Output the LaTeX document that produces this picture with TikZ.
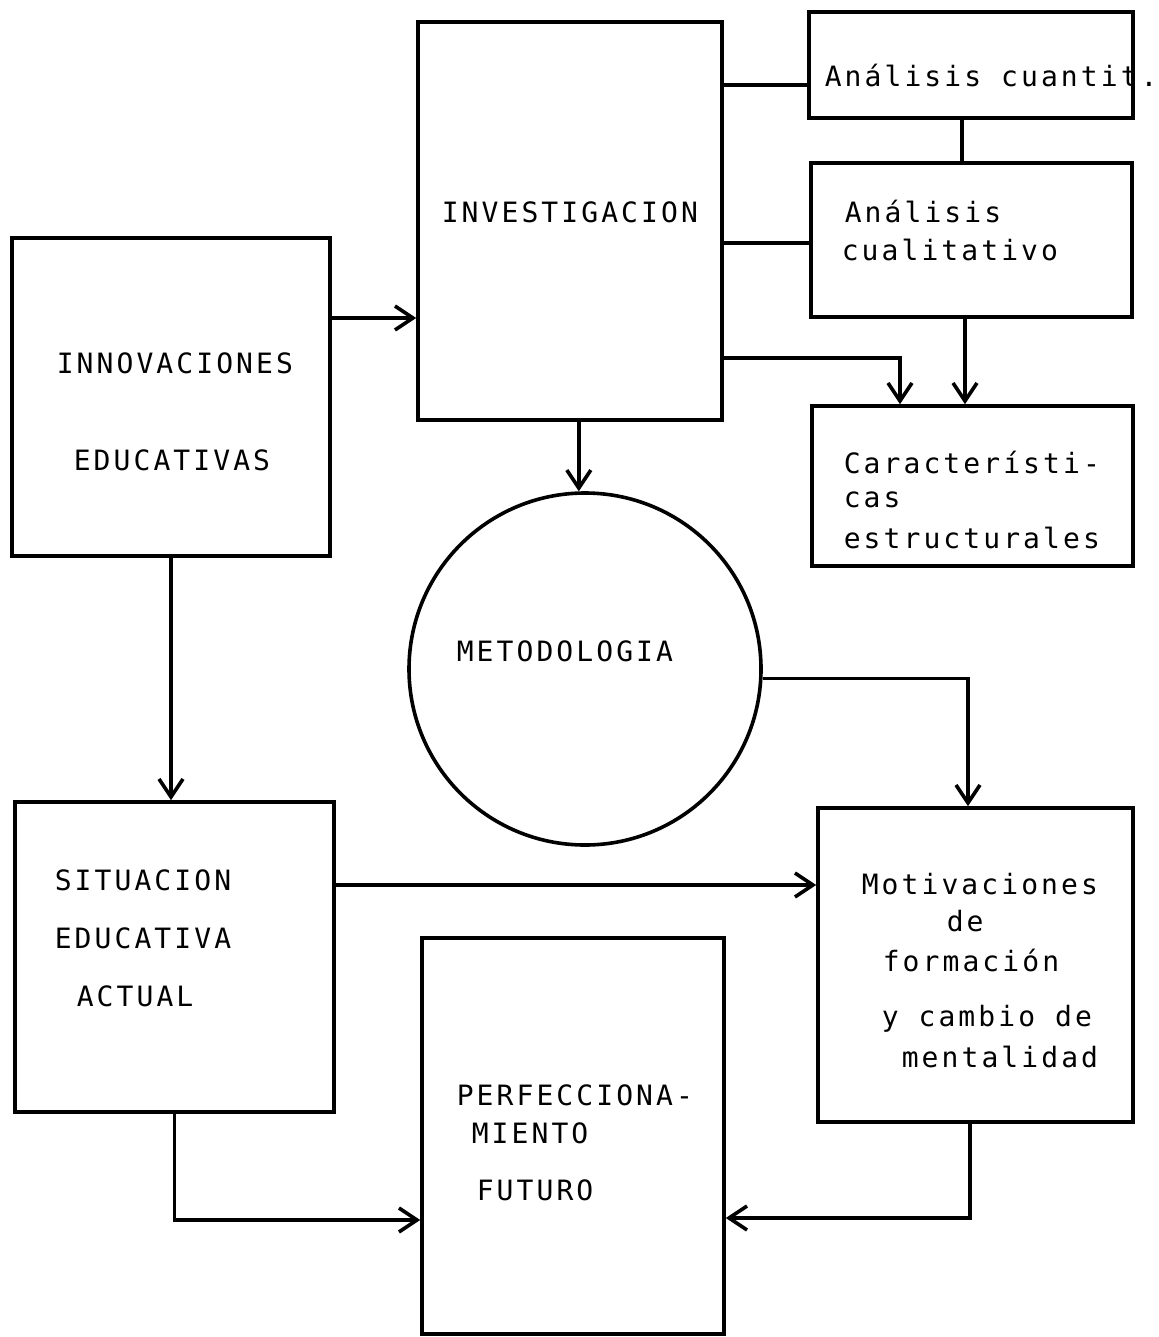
\documentclass[tikz,border=0pt]{standalone}
\usepackage{fontspec}
\usepackage{tikz}
\usetikzlibrary{arrows.meta}
\newfontfamily\typewr[LetterSpace=11]{DejaVu Sans Mono}

\begin{document}
\begin{tikzpicture}[x=0.5pt,y=-0.5pt,
  box/.style={draw, rectangle, line width=1.8pt, inner sep=0pt},
  lbl/.style={anchor=west, inner sep=0pt, font=\typewr\fontsize{14pt}{17pt}\selectfont},
  line width=1.8pt,
  >={Straight Barb[length=9pt,width=12pt,line width=1.8pt]}]
\useasboundingbox (0,0) rectangle (1159,1337);
% boxes
\node[box, minimum width=152pt, minimum height=199pt] (invest) at (570,221) {};
\node[box, minimum width=162pt, minimum height=53pt] (cuant) at (971,65) {};
\node[box, minimum width=160.5pt, minimum height=77pt] (cuali) at (971.5,240) {};
\node[box, minimum width=160.5pt, minimum height=80pt] (carac) at (972.5,486) {};
\node[box, minimum width=159pt, minimum height=159pt] (innov) at (171,397) {};
\node[draw, circle, line width=1.8pt, inner sep=0pt, minimum size=176pt] (metod) at (585,669) {};
\node[box, minimum width=159.5pt, minimum height=155pt] (sit) at (174.5,957) {};
\node[box, minimum width=157.5pt, minimum height=157pt] (motiv) at (975.5,965) {};
\node[box, minimum width=151pt, minimum height=198pt] (perf) at (573,1136) {};
% texts
\node[lbl] (invest-t) at (440,212) {INVESTIGACION};
\node[lbl] (cuant-t) at (823,76) {Análisis cuantit.};
\node[lbl] (cuali-t1) at (843,212) {Análisis};
\node[lbl] (cuali-t2) at (840,250) {cualitativo};
\node[lbl] (carac-t1) at (842,462) {Característi-};
\node[lbl] (carac-t2) at (842,500) {cas};
\node[lbl] (carac-t3) at (842,538) {estructurales};
\node[lbl] (innov-t1) at (55,363) {INNOVACIONES};
\node[lbl] (innov-t2) at (72,460) {EDUCATIVAS};
\node[lbl] (metod-t) at (455,651) {METODOLOGIA};
\node[lbl] (sit-t1) at (53,880) {SITUACION};
\node[lbl] (sit-t2) at (53,938) {EDUCATIVA};
\node[lbl] (sit-t3) at (75,996) {ACTUAL};
\node[lbl] (motiv-t1) at (860,884) {Motivaciones};
\node[lbl] (motiv-t2) at (945,921) {de};
\node[lbl] (motiv-t3) at (881,960) {formación};
\node[lbl] (motiv-t4) at (880,1019) {y cambio de};
\node[lbl] (motiv-t5) at (900,1057) {mentalidad};
\node[lbl] (perf-t1) at (455,1095) {PERFECCIONA-};
\node[lbl] (perf-t2) at (470,1133) {MIENTO};
\node[lbl] (perf-t3) at (475,1190) {FUTURO};
% connectors
\draw[->] (innov.east |- 0,318) -- (invest.west |- 0,318);
\draw (invest.east |- 0,85) -- (cuant.west |- 0,85);
\draw (invest.east |- 0,243) -- (cuali.west |- 0,243);
\draw (cuant.south -| 962,0) -- (cuali.north -| 962,0);
\draw[->] (invest.east |- 0,358) -| (carac.north -| 900,0);
\draw[->] (cuali.south -| 965,0) -- (carac.north -| 965,0);
\draw[->] (metod.92 |- invest.south) -- (metod.92);
\draw[->] (innov.south) -- (innov.south |- sit.north);
\draw[->] (metod.-3) -| (motiv.north -| 968,0);
\draw[->] (sit.east |- 0,885) -- (motiv.west |- 0,885);
\draw[->] (sit.south) |- (perf.west |- 0,1220);
\draw[->] (motiv.south -| 970,0) |- (perf.east |- 0,1218);
\end{tikzpicture}
\end{document}
